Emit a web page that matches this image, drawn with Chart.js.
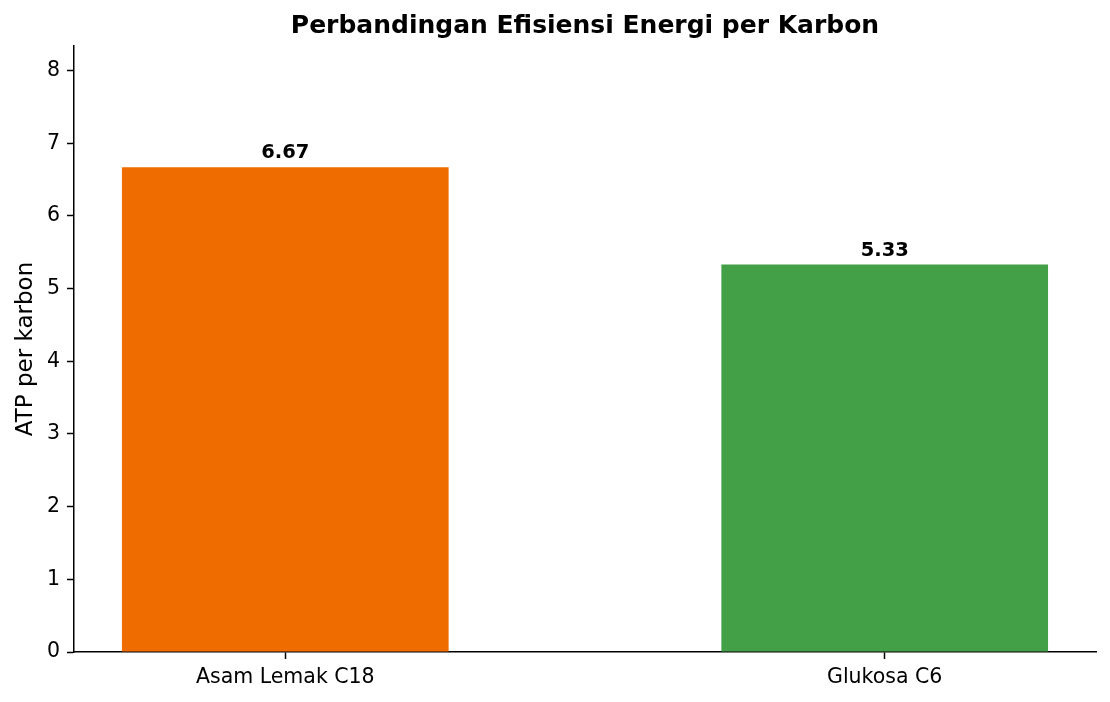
<!DOCTYPE html>
<html>
<head>
<meta charset="utf-8">
<script src="https://cdn.jsdelivr.net/npm/chart.js@4/dist/chart.umd.min.js"></script>
<style>
  html, body { margin: 0; padding: 0; background: #fff; }
  canvas { display: block; }
</style>
</head>
<body>
<canvas id="chart" width="1110" height="702"></canvas>
<script>
// data
var categories = ['Asam Lemak C18', 'Glukosa C6'];
var atpPerCarbon = [6.67, 5.33];
var barColors = ['#EF6C00', '#43A047'];
var yTicks = [0, 1, 2, 3, 4, 5, 6, 7, 8];

var FONT = "'DejaVu Sans', sans-serif";
var yMax = Math.max.apply(null, atpPerCarbon) * 1.25;

// writes the value above each bar
var valueLabels = {
    id: 'valueLabels',
    afterDatasetsDraw: function(chart) {
        var ctx = chart.ctx;
        var meta = chart.getDatasetMeta(0);
        ctx.save();
        ctx.font = 'bold 19.5px ' + FONT;
        ctx.fillStyle = '#000';
        ctx.textAlign = 'center';
        ctx.textBaseline = 'alphabetic';
        meta.data.forEach(function(bar, i) {
            ctx.fillText(atpPerCarbon[i].toFixed(2), bar.x, bar.y - 9);
        });
        ctx.restore();
    }
};

var axisGrid = {
    display: true,
    offset: false,
    drawOnChartArea: false,
    drawTicks: true,
    tickLength: 7,
    tickWidth: 1.5,
    tickColor: '#000'
};

new Chart(document.getElementById('chart'), {
    type: 'bar',
    data: {
        datasets: [{
            data: atpPerCarbon.map(function(v, i) { return { x: i, y: v }; }),
            backgroundColor: barColors,
            borderWidth: 0,
            barPercentage: 1,
            categoryPercentage: 0.545
        }]
    },
    options: {
        responsive: false,
        animation: false,
        layout: { padding: { left: 0, right: 14, top: 0, bottom: 0 } },
        plugins: {
            legend: { display: false },
            tooltip: { enabled: false },
            title: {
                display: true,
                fullSize: false,
                text: 'Perbandingan Efisiensi Energi per Karbon',
                color: '#000',
                font: { family: FONT, size: 25, weight: 'bold', lineHeight: 1.2 },
                padding: { top: 11, bottom: 5 }
            }
        },
        scales: {
            x: {
                type: 'linear',
                min: -0.3525,
                max: 1.3525,
                offset: false,
                afterBuildTicks: function(scale) {
                    scale.ticks = categories.map(function(c, i) { return { value: i }; });
                },
                afterFit: function(scale) { scale.height = 50; },
                ticks: {
                    color: '#000',
                    font: { family: FONT, size: 20.5 },
                    padding: 6,
                    maxRotation: 0,
                    callback: function(v) { return categories[v]; }
                },
                grid: axisGrid,
                border: { display: true, color: '#000', width: 1.5 }
            },
            y: {
                min: 0,
                max: yMax,
                afterBuildTicks: function(scale) {
                    scale.ticks = yTicks.map(function(v) { return { value: v }; });
                },
                afterFit: function(scale) { scale.width = 74; },
                ticks: {
                    color: '#000',
                    font: { family: FONT, size: 20.5 },
                    padding: 7
                },
                grid: axisGrid,
                border: { display: true, color: '#000', width: 1.5 },
                title: {
                    display: true,
                    text: 'ATP per karbon',
                    color: '#000',
                    font: { family: FONT, size: 23 },
                    padding: { top: 12, bottom: 0 }
                }
            }
        }
    },
    plugins: [valueLabels]
});
</script>
</body>
</html>
